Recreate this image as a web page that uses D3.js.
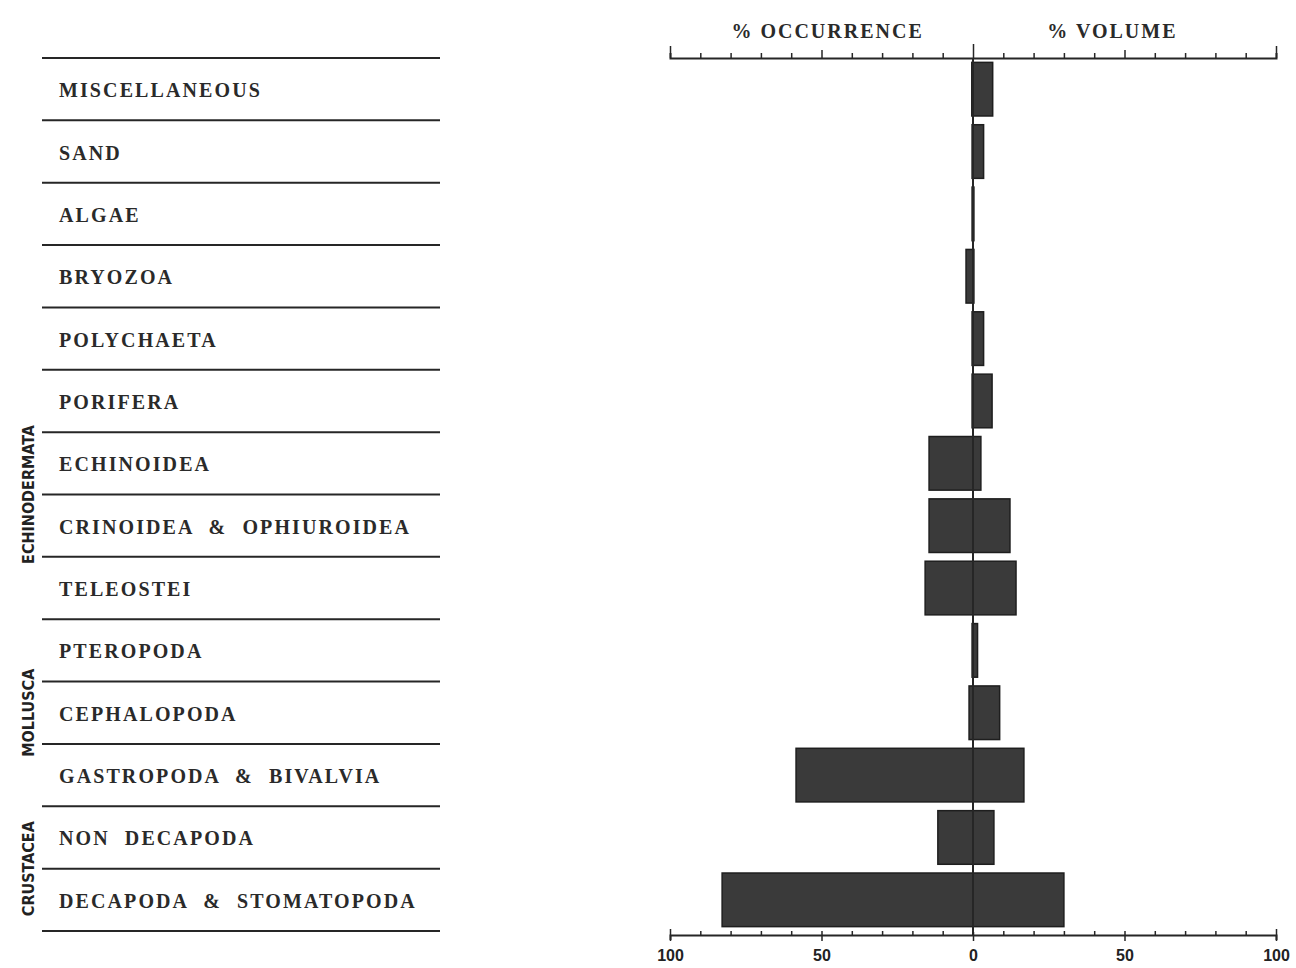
<!DOCTYPE html>
<html>
<head>
<meta charset="utf-8">
<script src="https://cdn.jsdelivr.net/npm/d3@7"></script>
<style>
  html, body { margin: 0; padding: 0; background: #fff; }
  svg { display: block; }
  .lbl { font-family: "Liberation Serif", "DejaVu Serif", serif; font-weight: bold; font-size: 20px; letter-spacing: 2.1px; word-spacing: 8px; fill: #2a2a2a; }
  .grp { font-family: "Liberation Sans Narrow", "DejaVu Sans Condensed", sans-serif; font-weight: bold; font-size: 16px; fill: #222; }
  .ttl { font-family: "Liberation Serif", "DejaVu Serif", serif; font-weight: bold; font-size: 20px; letter-spacing: 2px; fill: #2a2a2a; }
  .tick text { font-family: "Liberation Sans", "DejaVu Sans", sans-serif; font-weight: bold; font-size: 16px; fill: #222; }
</style>
</head>
<body>
<svg id="chart" width="1296" height="968"></svg>
<script>
// Prey categories, top to bottom
const categories = [
  "MISCELLANEOUS", "SAND", "ALGAE", "BRYOZOA", "POLYCHAETA", "PORIFERA",
  "ECHINOIDEA", "CRINOIDEA & OPHIUROIDEA", "TELEOSTEI", "PTEROPODA",
  "CEPHALOPODA", "GASTROPODA & BIVALVIA", "NON DECAPODA", "DECAPODA & STOMATOPODA"
];
// % occurrence (drawn to the left of zero)
const occurrence = [0.4, 0.3, 0.3, 2.3, 0.3, 0.3, 14.5, 14.5, 15.8, 0.3, 1.3, 58.4, 11.6, 82.8];
// % volume (drawn to the right of zero)
const volume = [6.5, 3.5, 0.3, 0.3, 3.5, 6.3, 2.6, 12.2, 14.2, 1.5, 8.8, 16.8, 6.9, 30.0];
// Higher taxonomic groups spanning several rows
const groups = [
  { name: "ECHINODERMATA", first: "ECHINOIDEA", last: "CRINOIDEA & OPHIUROIDEA" },
  { name: "MOLLUSCA", first: "PTEROPODA", last: "GASTROPODA & BIVALVIA" },
  { name: "CRUSTACEA", first: "NON DECAPODA", last: "DECAPODA & STOMATOPODA" }
];
const axisTitles = ["% OCCURRENCE", "% VOLUME"];
const tickValues = d3.range(-100, 101, 10);
const labelledTicks = [-100, -50, 0, 50, 100];

const svg = d3.select("#chart");
const ink = "#262626";

const plotTop = 58, plotBottom = 931, axisBottomY = 935;
const x = d3.scaleLinear().domain([-100, 100]).range([670, 1276]);
const y = d3.scaleBand().domain(categories).range([plotTop, plotBottom]).paddingInner(0.14).paddingOuter(0.07);
const rows = d3.scaleBand().domain(categories).range([plotTop, plotBottom]);

// ---- left-hand table of category names ----
const table = svg.append("g");
const boundaries = categories.map(c => rows(c)).concat([plotBottom]);
table.selectAll("line.row").data(boundaries).join("line")
  .attr("class", "row")
  .attr("x1", 42).attr("x2", 440)
  .attr("y1", d => d).attr("y2", d => d)
  .attr("stroke", ink).attr("stroke-width", 2);

table.selectAll("text.lbl").data(categories).join("text")
  .attr("class", "lbl")
  .attr("x", 59)
  .attr("y", d => rows(d) + rows.bandwidth() / 2 + 8)
  .text(d => d);

table.selectAll("text.grp").data(groups).join("text")
  .attr("class", "grp")
  .attr("text-anchor", "middle")
  .attr("transform", g => {
    const cy = (rows(g.first) + rows(g.last) + rows.bandwidth()) / 2;
    return `translate(34,${cy}) rotate(-90)`;
  })
  .text(g => g.name);

// ---- bars ----
const data = categories.map((c, i) => ({ c, occ: occurrence[i], vol: volume[i] }));
svg.append("g").selectAll("rect").data(data).join("rect")
  .attr("x", d => x(-d.occ))
  .attr("width", d => x(d.vol) - x(-d.occ))
  .attr("y", d => y(d.c))
  .attr("height", y.bandwidth())
  .attr("fill", "#3a3a3a")
  .attr("stroke", "#1e1e1e")
  .attr("stroke-width", 1.5);

// zero line
svg.append("line")
  .attr("x1", x(0)).attr("x2", x(0))
  .attr("y1", plotTop).attr("y2", axisBottomY)
  .attr("stroke", ink).attr("stroke-width", 2);

// ---- top axis ----
const axTop = d3.axisTop(x).tickValues(tickValues).tickFormat("").tickSizeOuter(0).tickSize(5);
const gTop = svg.append("g").attr("transform", `translate(0,${plotTop})`).call(axTop);
gTop.select(".domain").attr("stroke", ink).attr("stroke-width", 2);
gTop.selectAll(".tick line")
  .attr("stroke", ink).attr("stroke-width", 1.5)
  .attr("y2", d => Math.abs(d) === 100 ? -12 : d === 0 ? -14 : Math.abs(d) === 50 ? -8 : -5);

svg.append("g").selectAll("text").data(axisTitles).join("text")
  .attr("class", "ttl")
  .attr("text-anchor", "middle")
  .attr("x", (d, i) => i === 0 ? x(-48) : x(46))
  .attr("y", 38)
  .text(d => d);

// ---- bottom axis ----
const axBot = d3.axisBottom(x).tickValues(tickValues)
  .tickFormat(d => labelledTicks.includes(d) ? String(Math.abs(d)) : "")
  .tickSizeOuter(0).tickSize(5).tickPadding(10);
const gBot = svg.append("g").attr("transform", `translate(0,${axisBottomY})`).call(axBot);
gBot.select(".domain").attr("stroke", ink).attr("stroke-width", 2);
gBot.selectAll(".tick line")
  .attr("stroke", ink).attr("stroke-width", 1.5)
  .attr("y1", d => Math.abs(d) === 100 ? -6 : d === 0 ? -3 : -4)
  .attr("y2", d => labelledTicks.includes(d) ? 6 : 1);
</script>
</body>
</html>
